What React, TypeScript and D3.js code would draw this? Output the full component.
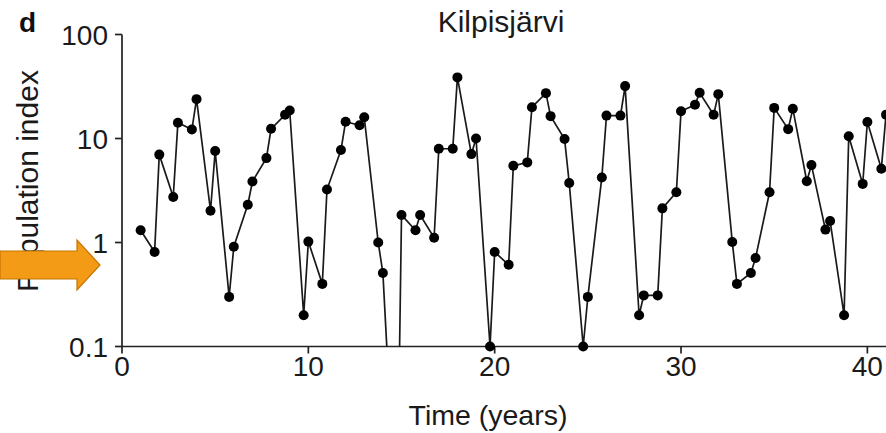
import React from "react";
import * as d3 from "d3";

const times = [
  1, 1.75, 2, 2.75, 3, 3.75, 4, 4.75, 5, 5.75, 6, 6.75, 7, 7.75, 8, 8.75, 9, 9.75, 10,
  10.75, 11, 11.75, 12, 12.75, 13, 13.75, 14, 14.75, 15, 15.75, 16, 16.75, 17, 17.75, 18,
  18.75, 19, 19.75, 20, 20.75, 21, 21.75, 22, 22.75, 23, 23.75, 24, 24.75, 25, 25.75, 26,
  26.75, 27, 27.75, 28, 28.75, 29, 29.75, 30, 30.75, 31, 31.75, 32, 32.75, 33, 33.75, 34,
  34.75, 35, 35.75, 36, 36.75, 37, 37.75, 38, 38.75, 39, 39.75, 40, 40.75, 41,
];

const populationIndex = [
  1.31, 0.81, 7.0, 2.74, 14.2, 12.2, 23.9, 2.02, 7.57, 0.3, 0.91, 2.31, 3.86, 6.48, 12.4,
  16.9, 18.6, 0.2, 1.02, 0.4, 3.23, 7.74, 14.5, 13.4, 16.0, 1.0, 0.51, 0.0015, 1.84, 1.31,
  1.84, 1.11, 7.97, 7.97, 38.7, 7.08, 10.0, 0.1, 0.81, 0.61, 5.46, 5.89, 20.0, 27.3, 16.4,
  9.89, 3.74, 0.1, 0.3, 4.22, 16.6, 16.6, 31.9, 0.2, 0.31, 0.31, 2.13, 3.04, 18.3, 21.1,
  27.5, 16.9, 26.7, 1.01, 0.4, 0.51, 0.71, 3.04, 19.7, 12.3, 19.3, 3.88, 5.55, 1.33, 1.61,
  0.2, 10.5, 3.66, 14.4, 5.11, 16.9,
];

const xTicks = [0, 10, 20, 30, 40];
const yTicks = [0.1, 1, 10, 100];
const yTickLabels = ["0.1", "1", "10", "100"];

const W = 886;
const H = 433;
const FONT = "'Liberation Sans', Arial, Helvetica, sans-serif";

export default function App() {
  const x = d3.scaleLinear().domain([0, 41]).range([122, 886]);
  const y = d3.scaleLog().domain([0.1, 100]).range([346.5, 34.5]);

  const data = times.map((t, i) => ({ t, v: populationIndex[i] }));
  const line = d3
    .line<{ t: number; v: number }>()
    .x((d) => x(d.t))
    .y((d) => y(d.v));

  const x0 = x(0);
  const yBase = y(0.1);

  return (
    <svg
      width={W}
      height={H}
      style={{ position: "fixed", left: 0, top: 0, background: "#fff" }}
      fontFamily={FONT}
    >
      <defs>
        <clipPath id="plotClip">
          <rect x={x0} y={0} width={W - x0} height={yBase} />
        </clipPath>
      </defs>

      {/* panel letter */}
      <text x={19} y={32} fontSize={28} fontWeight="bold" fill="#111">
        d
      </text>

      {/* title */}
      <text x={501} y={32} fontSize={30} textAnchor="middle" fill="#1a1a1a">
        Kilpisjärvi
      </text>

      {/* y axis */}
      <line x1={x0} x2={x0} y1={y(100)} y2={yBase} stroke="#222" strokeWidth={1.7} />
      {yTicks.map((t, i) => (
        <g key={t}>
          <line x1={x0 - 7} x2={x0} y1={y(t)} y2={y(t)} stroke="#222" strokeWidth={1.7} />
          <text
            x={x0 - 14}
            y={y(t)}
            dy="0.36em"
            fontSize={28}
            textAnchor="end"
            fill="#1a1a1a"
          >
            {yTickLabels[i]}
          </text>
        </g>
      ))}

      {/* x axis */}
      <line x1={x0} x2={W} y1={yBase} y2={yBase} stroke="#222" strokeWidth={1.7} />
      {xTicks.map((t) => (
        <g key={t}>
          <line x1={x(t)} x2={x(t)} y1={yBase} y2={yBase + 7} stroke="#222" strokeWidth={1.7} />
          <text x={x(t)} y={376} fontSize={28} textAnchor="middle" fill="#1a1a1a">
            {t}
          </text>
        </g>
      ))}

      {/* axis titles */}
      <text x={488} y={425} fontSize={28.5} textAnchor="middle" fill="#1a1a1a">
        Time (years)
      </text>
      <text
        transform="translate(38,181) rotate(-90)"
        fontSize={30}
        textAnchor="middle"
        fill="#1a1a1a"
      >
        Population index
      </text>

      {/* series */}
      <path
        d={line(data) || ""}
        fill="none"
        stroke="#1a1a1a"
        strokeWidth={1.7}
        clipPath="url(#plotClip)"
      />
      {data
        .filter((d) => d.v >= 0.1)
        .map((d, i) => (
          <circle key={i} cx={x(d.t)} cy={y(d.v)} r={5} fill="#000" />
        ))}

      {/* orange arrow */}
      <path
        d="M0,251 L77,251 L77,240 L100,265 L77,290 L77,279 L0,279 Z"
        fill="#F39A16"
        stroke="#C47600"
        strokeWidth={1.2}
      />
    </svg>
  );
}
